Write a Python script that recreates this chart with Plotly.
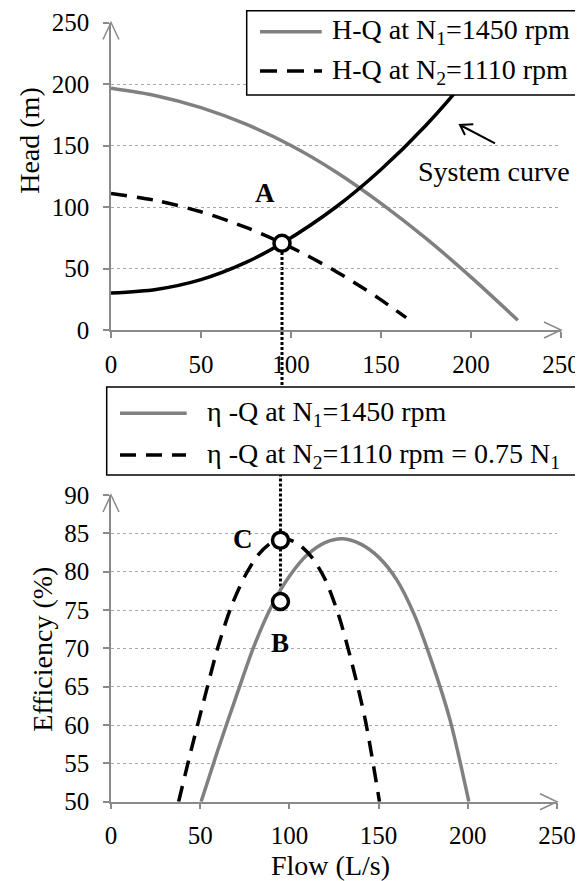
import plotly.graph_objects as go

# ---------------- data ----------------
# Head-flow curves (top panel)
q_h1 = [0, 25, 50, 75, 100, 125, 150, 175, 200, 226]
h_h1 = [196.5, 190.5, 180.8, 167.3, 150, 128.5, 103, 74.5, 43, 8]
q_h2 = [0, 25, 50, 75, 95, 110, 125, 140, 150, 164]
h_h2 = [111, 105.3, 96.1, 83.4, 70.7, 59.8, 47.6, 34.2, 24.5, 10]
q_sys = [0, 25, 50, 75, 95, 125, 150, 175, 200, 220]
h_sys = [30, 33, 41, 55, 70.5, 100, 130.5, 166.5, 208.5, 246]

# Efficiency-flow curves (bottom panel)
q_eta1 = [50.5, 60, 70, 80, 90, 100, 110, 120, 130, 140, 150, 160, 170, 180, 190, 200.6]
eta1 = [50, 56.8, 63.6, 70.2, 75.5, 79.4, 82.2, 83.8, 84.3, 83.6, 81.9, 79.0, 74.4, 68.1, 60.7, 50]
q_eta2 = [37.9, 45, 52.5, 60, 67.5, 75, 82.5, 90, 97.5, 105, 112.5, 120, 127.5, 135, 142.5, 150.5]
eta2 = [50, 56.8, 63.6, 70.2, 75.5, 79.4, 82.2, 83.8, 84.3, 83.6, 81.9, 79.0, 74.4, 68.1, 60.7, 50]

# Operating points
q_op = 95
h_A = 70.5
eta_B = 76.1
eta_C = 84.1

x_ticks = [0, 50, 100, 150, 200, 250]
head_ticks = [0, 50, 100, 150, 200, 250]
eff_ticks = [50, 55, 60, 65, 70, 75, 80, 85, 90]

name_h1 = "H-Q at N<sub>1</sub>=1450 rpm"
name_h2 = "H-Q at N<sub>2</sub>=1110 rpm"
name_e1 = "η -Q at N<sub>1</sub>=1450 rpm"
name_e2 = "η -Q at N<sub>2</sub>=1110 rpm = 0.75 N<sub>1</sub>"

# ---------------- layout helpers ----------------
# The page body has an 8px default margin, so the figure is 8px smaller and
# all target positions (in window pixels) are shifted by OFF.
OFF = 8
W, H = 583 - OFF, 881 - OFF
ML = 111 - OFF          # left edge of plot area (window x = 111)
MT = 22 - OFF           # top of plot area (window y = 22)
MR = W - (561 - OFF)    # right edge of top plot (window x = 561)
MB = H - (802 - OFF)    # bottom of lower plot (window y = 802)
PW, PH = W - ML - MR, H - MT - MB


def fx(px):
    return (px - OFF - ML) / PW


def fy(py):
    return (H - MB - (py - OFF)) / PH


FONT = "Liberation Serif"
GRAY = "#808080"
AXC = "#8a8a8a"
DASH = "16px,10px"

top_dom = [fy(330), fy(22.5)]
bot_dom = [max(0, fy(801.7)), fy(495)]
bot_xdom = [0, fx(557)]

fig = go.Figure()

spl = dict(shape="spline", smoothing=0.8)
fig.add_trace(go.Scatter(x=q_h1, y=h_h1, mode="lines", name=name_h1,
                         line=dict(color=GRAY, width=3.5, **spl),
                         xaxis="x", yaxis="y", showlegend=False))
fig.add_trace(go.Scatter(x=q_h2, y=h_h2, mode="lines", name=name_h2,
                         line=dict(color="black", width=3.5, dash=DASH, **spl),
                         xaxis="x", yaxis="y", showlegend=False))
fig.add_trace(go.Scatter(x=q_sys, y=h_sys, mode="lines", name="System curve",
                         line=dict(color="black", width=3.5, **spl),
                         xaxis="x", yaxis="y", showlegend=False))
fig.add_trace(go.Scatter(x=q_eta1, y=eta1, mode="lines", name=name_e1,
                         line=dict(color=GRAY, width=3.5, **spl),
                         xaxis="x2", yaxis="y2", showlegend=False))
fig.add_trace(go.Scatter(x=q_eta2, y=eta2, mode="lines", name=name_e2,
                         line=dict(color="black", width=3.5, dash=DASH, **spl),
                         xaxis="x2", yaxis="y2", showlegend=False))

mk = dict(symbol="circle", size=16, color="white", line=dict(color="black", width=3.5))
fig.add_trace(go.Scatter(x=[q_op], y=[h_A], mode="markers", marker=mk, cliponaxis=False,
                         xaxis="x", yaxis="y", showlegend=False, name="A"))
fig.add_trace(go.Scatter(x=[q_op, q_op], y=[eta_B, eta_C], mode="markers", marker=mk,
                         cliponaxis=False, xaxis="x2", yaxis="y2", showlegend=False, name="B, C"))

# ---------------- shapes ----------------
shapes = []
yA = top_dom[0] + h_A / 250 * (top_dom[1] - top_dom[0])
yB = bot_dom[0] + (eta_B - 50) / 40 * (bot_dom[1] - bot_dom[0])
dot = dict(color="black", width=3, dash="3px,2px")
shapes.append(dict(type="line", xref="x", yref="paper", x0=q_op, x1=q_op,
                   y0=fy(430), y1=yA, line=dot, layer="below"))
shapes.append(dict(type="line", xref="x2", yref="paper", x0=q_op, x1=q_op,
                   y0=yB, y1=fy(430), line=dot, layer="below"))

arr = dict(color=AXC, width=1.5)
for (ax_x, ax_y) in [(1.0, top_dom[0]), (bot_xdom[1], bot_dom[0])]:
    shapes.append(dict(type="path", xref="paper", yref="paper", xsizemode="pixel", ysizemode="pixel",
                       xanchor=ax_x, yanchor=ax_y, path="M -17 8 L 0 0 L -17 -8", line=arr))
for (ax_x, ax_y) in [(0, top_dom[1]), (0, bot_dom[1])]:
    shapes.append(dict(type="path", xref="paper", yref="paper", xsizemode="pixel", ysizemode="pixel",
                       xanchor=ax_x, yanchor=ax_y, path="M -8 -17 L 0 0 L 8 -17", line=arr))

shapes.append(dict(type="path", xref="paper", yref="paper", xsizemode="pixel", ysizemode="pixel",
                   xanchor=fx(460), yanchor=fy(125),
                   path="M 35 -18.3 L 0 0 M 13.3 0.7 L 0 0 L 5 -10",
                   line=dict(color="black", width=2)))

shapes.append(dict(type="rect", xref="paper", yref="paper", x0=fx(246.7), x1=fx(582),
                   y0=fy(95), y1=fy(10.7), fillcolor="white", line=dict(color="black", width=1.5),
                   layer="above"))
shapes.append(dict(type="rect", xref="paper", yref="paper", x0=fx(106.7), x1=fx(581),
                   y0=fy(475), y1=fy(387), fillcolor="white", line=dict(color="black", width=1.5),
                   layer="above"))
shapes.append(dict(type="line", xref="paper", yref="paper", x0=fx(260), x1=fx(321.7),
                   y0=fy(31.7), y1=fy(31.7), line=dict(color=GRAY, width=3.5), layer="above"))
shapes.append(dict(type="line", xref="paper", yref="paper", x0=fx(260), x1=fx(322),
                   y0=fy(71), y1=fy(71), line=dict(color="black", width=3.5, dash="17px,10px"),
                   layer="above"))
shapes.append(dict(type="line", xref="paper", yref="paper", x0=fx(120), x1=fx(186.7),
                   y0=fy(413.3), y1=fy(413.3), line=dict(color=GRAY, width=3.5), layer="above"))
shapes.append(dict(type="line", xref="paper", yref="paper", x0=fx(120), x1=fx(186),
                   y0=fy(455), y1=fy(455), line=dict(color="black", width=3.5, dash=DASH), layer="above"))

# ---------------- annotations ----------------
ann = []
tf = dict(family=FONT, size=28, color="black")
ann += [
    dict(xref="paper", yref="paper", x=fx(330), y=fy(31.7), text=name_h1, showarrow=False,
         xanchor="left", yanchor="middle", font=tf),
    dict(xref="paper", yref="paper", x=fx(330), y=fy(71), text=name_h2, showarrow=False,
         xanchor="left", yanchor="middle", font=tf),
    dict(xref="paper", yref="paper", x=fx(205), y=fy(413.3), text=name_e1, showarrow=False,
         xanchor="left", yanchor="middle", font=tf),
    dict(xref="paper", yref="paper", x=fx(205), y=fy(455), text=name_e2, showarrow=False,
         xanchor="left", yanchor="middle", font=tf),
    dict(xref="paper", yref="paper", x=fx(494), y=fy(171.7), text="System curve", showarrow=False,
         xanchor="center", yanchor="middle", font=tf),
]
bf = dict(family=FONT, size=27, color="black")
ann += [
    dict(xref="x", yref="y", x=q_op, y=h_A, text="<b>A</b>", showarrow=False,
         xshift=-17, yshift=50, font=bf),
    dict(xref="x2", yref="y2", x=q_op, y=eta_C, text="<b>C</b>", showarrow=False,
         xshift=-37, yshift=1, font=bf),
    dict(xref="x2", yref="y2", x=q_op, y=eta_B, text="<b>B</b>", showarrow=False,
         xshift=0, yshift=-41, font=bf),
]
af = dict(family=FONT, size=28, color="black")
ann += [
    dict(xref="paper", yref="paper", x=fx(30), y=fy(140.8), text="Head (m)", textangle=-90,
         showarrow=False, xanchor="center", yanchor="middle", font=af),
    dict(xref="paper", yref="paper", x=fx(41.7), y=fy(649), text="Efficiency (%)", textangle=-90,
         showarrow=False, xanchor="center", yanchor="middle", font=af),
    dict(xref="paper", yref="paper", x=fx(330), y=fy(865), text="Flow (L/s)",
         showarrow=False, xanchor="center", yanchor="middle", font=af),
]

tick_font = dict(family=FONT, size=25, color="black")
common_x = dict(range=[0, 250], tickvals=x_ticks, showline=True, linecolor=AXC, linewidth=1.5,
                ticks="outside", ticklen=6, tickcolor=AXC, tickwidth=1.5, showgrid=False,
                zeroline=False, tickfont=tick_font, automargin=False, ticklabelstandoff=5)
common_y = dict(showline=True, linecolor=AXC, linewidth=1.5, ticks="outside", ticklen=6,
                tickcolor=AXC, tickwidth=1.5, showgrid=True, gridcolor="#a8a8a8", gridwidth=1,
                griddash="dot", zeroline=False, tickfont=tick_font, ticklabelstandoff=9,
                automargin=False)

fig.update_layout(
    template="none",
    width=W, height=H,
    margin=dict(l=ML, r=MR, t=MT, b=MB, autoexpand=False),
    paper_bgcolor="white", plot_bgcolor="white",
    font=dict(family=FONT, color="black"),
    showlegend=False,
    xaxis=dict(domain=[0, 1], anchor="y", **common_x),
    yaxis=dict(domain=top_dom, anchor="x", range=[0, 250], tickvals=head_ticks, **common_y),
    xaxis2=dict(domain=bot_xdom, anchor="y2", **common_x),
    yaxis2=dict(domain=bot_dom, anchor="x2", range=[50, 90], tickvals=eff_ticks, **common_y),
    shapes=shapes,
    annotations=ann,
)

fig.write_html("out.html")
